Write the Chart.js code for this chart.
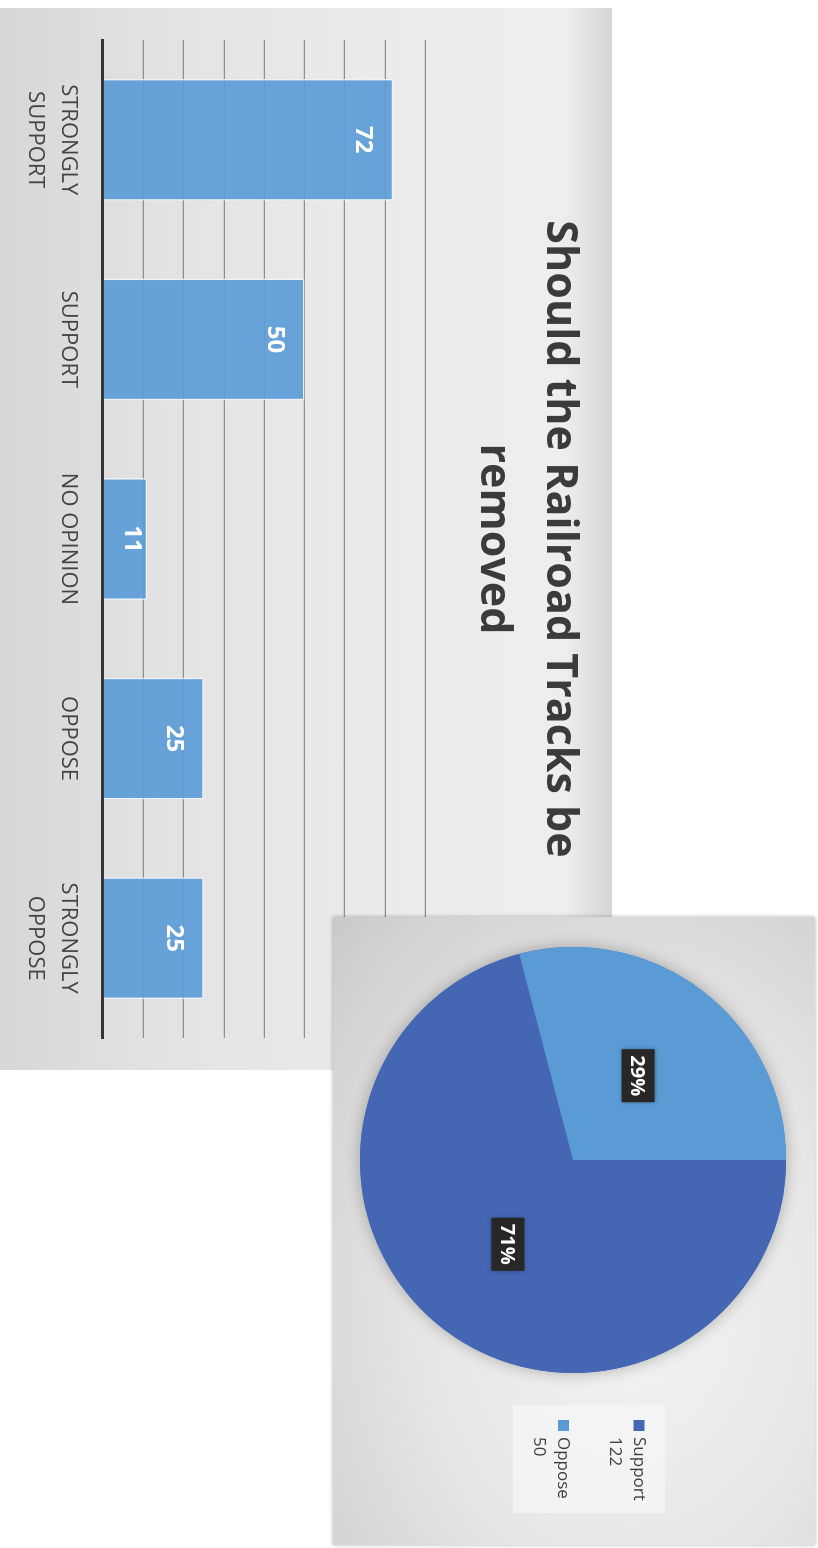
<!DOCTYPE html>
<html>
<head>
<meta charset="utf-8">
<script src="https://cdn.jsdelivr.net/npm/chart.js@4.4.1/dist/chart.umd.min.js"></script>
<style>
  body { margin: 0; background: #fff; width: 818px; height: 1548px; position: relative; overflow: hidden; }
  .panel { position: absolute; }
  .rot { position: absolute; top: 0; transform-origin: 0 0; transform: rotate(90deg); }
  #barPanel {
    left: 0; top: 8px; width: 612px; height: 1062px;
    background: linear-gradient(to right, #d7d7d7 0%, #e2e2e2 25%, #ebebeb 60%, #eeeeee 92%, #d6d6d6 100%);
  }
  #piePanel {
    left: 333px; top: 917px; width: 482px; height: 628px;
    background: radial-gradient(ellipse at 62% 62%, #f3f3f3 0%, #e8e8e8 45%, #d3d3d3 85%, #c9c9c9 100%);
    box-shadow: 0 0 4px rgba(0,0,0,0.3);
  }
</style>
</head>
<body>
<div id="barPanel" class="panel">
  <div class="rot" style="left:612px;width:1062px;height:612px;"><canvas id="barChart" width="1062" height="612"></canvas></div>
</div>
<div id="piePanel" class="panel">
  <div class="rot" style="left:482px;width:628px;height:482px;"><canvas id="pieChart" width="628" height="482"></canvas></div>
</div>
<script>
const categories = [['STRONGLY', 'SUPPORT'], 'SUPPORT', 'NO OPINION', 'OPPOSE', ['STRONGLY', 'OPPOSE']];
const responses = [72, 50, 11, 25, 25];
const valueMax = 80;
const valueStep = 10;

const pieLabels = ['Support', 'Oppose'];
const pieValues = [122, 50];
const pieColors = ['#4567b3', '#5b9bd5'];

const font = '"Open Sans", sans-serif';

// value labels inside the bar ends
const barLabels = {
    id: 'barLabels',
    afterDatasetsDraw(chart) {
        const ctx = chart.ctx;
        const meta = chart.getDatasetMeta(0);
        ctx.save();
        ctx.font = 'bold 24px ' + font;
        ctx.fillStyle = '#ffffff';
        ctx.textAlign = 'center';
        ctx.textBaseline = 'middle';
        meta.data.forEach((bar, i) => {
            const cy = Math.min(bar.y + 30, (bar.base + bar.y) / 2 - 6);
            ctx.fillText(String(responses[i]), bar.x, cy);
        });
        ctx.restore();
    }
};

new Chart(document.getElementById('barChart'), {
    type: 'bar',
    data: {
        labels: categories,
        datasets: [{
            data: responses,
            backgroundColor: 'rgba(93,156,214,0.93)',
            borderColor: 'rgba(235,244,255,0.9)',
            borderWidth: 1.5,
            categoryPercentage: 1,
            barPercentage: 0.61
        }]
    },
    options: {
        responsive: false,
        animation: false,
        devicePixelRatio: 1,
        layout: { padding: { left: 32, right: 32, top: 0, bottom: 1 } },
        plugins: {
            legend: { display: false },
            tooltip: { enabled: false },
            title: {
                display: true,
                text: ['Should the Railroad Tracks be', 'removed'],
                color: '#3b3b3b',
                font: { family: font, size: 43, weight: 'bold', lineHeight: 1.53 },
                padding: { top: 20, bottom: 35 }
            }
        },
        scales: {
            x: {
                grid: { display: false, drawTicks: false },
                border: { color: '#353535', width: 3 },
                ticks: {
                    color: '#444444',
                    padding: 18,
                    font: { family: font, size: 22, lineHeight: 1.5 }
                }
            },
            y: {
                min: 0,
                max: valueMax,
                ticks: { display: false, stepSize: valueStep },
                border: { display: false },
                grid: {
                    drawTicks: false,
                    lineWidth: 1.3,
                    color: c => c.tick.value === 0 ? 'rgba(0,0,0,0)' : '#8e8e8e'
                }
            }
        }
    },
    plugins: [barLabels]
});

// soft shadow under the whole pie
const pieShadow = {
    id: 'pieShadow',
    beforeDatasetsDraw(chart) {
        const arc = chart.getDatasetMeta(0).data[0];
        if (!arc) return;
        const ctx = chart.ctx;
        ctx.save();
        ctx.shadowColor = 'rgba(0,0,0,0.28)';
        ctx.shadowBlur = 16;
        ctx.fillStyle = pieColors[0];
        ctx.beginPath();
        ctx.arc(arc.x, arc.y, arc.outerRadius, 0, Math.PI * 2);
        ctx.fill();
        ctx.restore();
    }
};

// dark percentage boxes
const pieLabelsPlugin = {
    id: 'pieLabels',
    afterDatasetsDraw(chart) {
        const ctx = chart.ctx;
        const total = pieValues.reduce((a, b) => a + b, 0);
        ctx.save();
        ctx.font = 'bold 20px ' + font;
        ctx.textAlign = 'center';
        ctx.textBaseline = 'middle';
        chart.getDatasetMeta(0).data.forEach((arc, i) => {
            const p = arc.getCenterPoint();
            const txt = Math.round(pieValues[i] / total * 100) + '%';
            ctx.shadowColor = 'rgba(0,0,0,0.35)';
            ctx.shadowBlur = 4;
            ctx.fillStyle = '#272727';
            ctx.fillRect(p.x - 26.5, p.y - 16.5, 53, 33);
            ctx.shadowBlur = 0;
            ctx.fillStyle = '#ffffff';
            ctx.fillText(txt, p.x, p.y + 1);
        });
        ctx.restore();
    }
};

// legend box with two-line entries
const pieLegend = {
    id: 'pieLegend',
    afterDraw(chart) {
        const ctx = chart.ctx;
        ctx.save();
        ctx.fillStyle = 'rgba(246,246,246,0.75)';
        ctx.fillRect(488, 150, 108, 152);
        ctx.font = '17px ' + font;
        ctx.textBaseline = 'middle';
        ctx.textAlign = 'left';
        pieLabels.forEach((lab, i) => {
            const y = 176.5 + i * 75.5;
            ctx.fillStyle = pieColors[i];
            ctx.fillRect(503, y - 6, 11, 11);
            ctx.fillStyle = '#404040';
            ctx.fillText(lab, 520, y);
            ctx.fillText(String(pieValues[i]), 520, y + 24);
        });
        ctx.restore();
    }
};

new Chart(document.getElementById('pieChart'), {
    type: 'pie',
    data: {
        labels: pieLabels,
        datasets: [{
            data: pieValues,
            backgroundColor: pieColors,
            borderWidth: 0
        }]
    },
    options: {
        responsive: false,
        animation: false,
        devicePixelRatio: 1,
        layout: { padding: { left: 30, right: 172, top: 28, bottom: 26 } },
        plugins: {
            legend: { display: false },
            tooltip: { enabled: false }
        }
    },
    plugins: [pieShadow, pieLabelsPlugin, pieLegend]
});
</script>
</body>
</html>
